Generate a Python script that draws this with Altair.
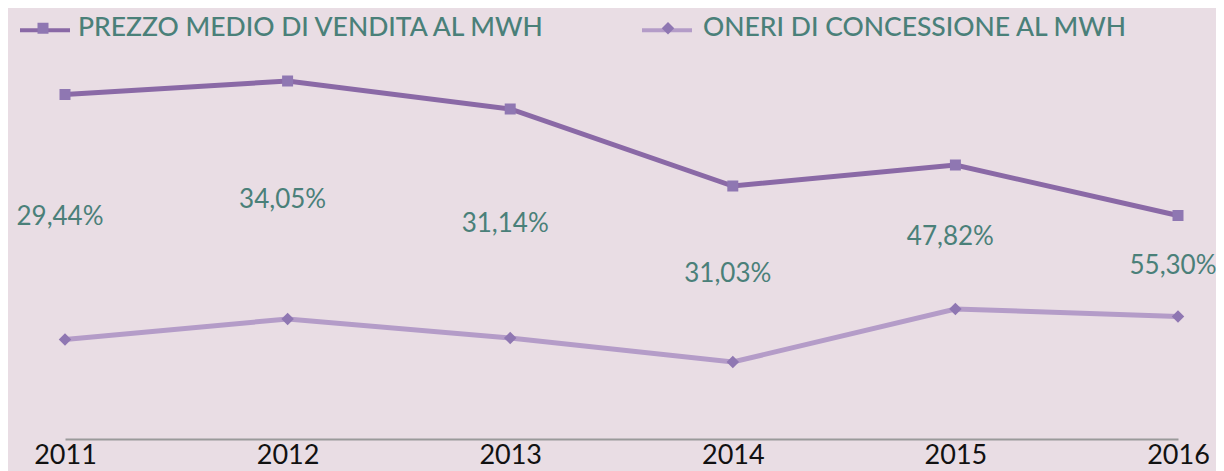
import altair as alt
import pandas as pd

years = [2011, 2012, 2013, 2014, 2015, 2016]
prezzo = [68.9, 71.6, 66.0, 50.6, 54.8, 44.7]
oneri = [19.9, 24.0, 20.2, 15.4, 26.0, 24.5]
quota = ["29,44%", "34,05%", "31,14%", "31,03%", "47,82%", "55,30%"]
series = ["PREZZO MEDIO DI VENDITA AL MWH", "ONERI DI CONCESSIONE AL MWH"]

wide = pd.DataFrame({"anno": years, "prezzo": prezzo, "oneri": oneri, "quota": quota})
long = wide.melt(id_vars=["anno"], value_vars=["prezzo", "oneri"], var_name="k", value_name="valore")
long["serie"] = long["k"].map({"prezzo": series[0], "oneri": series[1]})
long["legenda"] = long["serie"]

TEAL = "#4a8079"
BG = "#e9dde4"
line_colors = ["#8a69a6", "#b49cc8"]
marker_color = "#8f77b2"
shapes = ["M-0.22,-0.22H0.22V0.22H-0.22Z", "M0,-0.25L0.25,0L0,0.25L-0.25,0Z"]

x = alt.X(
    "anno:Q",
    scale=alt.Scale(domain=[2011, 2016], nice=False, zero=False),
    axis=alt.Axis(values=years, format="d", title=None, grid=False, ticks=False,
                  labelFlush=False, labelFont="Lato", labelFontSize=27,
                  labelColor="#111111", labelPadding=3,
                  domainColor="#9a9a9a", domainWidth=2),
)
yscale = alt.Scale(domain=[0, 76], nice=False)

LX, LY = -47, -56
common_legend = dict(orient="none", legendX=LX, legendY=LY, direction="horizontal",
                     columns=2, title=None, symbolSize=2500, labelFontSize=26.5,
                     labelFont="Lato", labelFontWeight=500, labelOffset=10,
                     padding=0, labelLimit=1000)

lines = alt.Chart(long).mark_line(strokeWidth=5).encode(
    x=x,
    y=alt.Y("valore:Q", scale=yscale, axis=None),
    color=alt.Color("serie:N", sort=series, scale=alt.Scale(range=line_colors),
                    legend=alt.Legend(symbolType="stroke", symbolStrokeWidth=4,
                                      labelExpr="''", columnPadding=552, **common_legend)),
)

points = alt.Chart(long).mark_point(filled=True, size=2500, opacity=1, color=marker_color).encode(
    x=x,
    y=alt.Y("valore:Q", scale=yscale, axis=None),
    shape=alt.Shape("legenda:N", sort=series, scale=alt.Scale(range=shapes),
                    legend=alt.Legend(symbolFillColor=marker_color, symbolStrokeWidth=0,
                                      symbolOpacity=1, labelColor=TEAL, columnPadding=96,
                                      **common_legend)),
)

labels = alt.Chart(wide).transform_calculate(
    mid="(datum.prezzo + datum.oneri) / 2"
).mark_text(font="Lato", fontSize=26, color=TEAL, baseline="middle", align="center", dx=-5).encode(
    x=x,
    y=alt.Y("mid:Q", scale=yscale, axis=None),
    text="quota:N",
)

chart = alt.layer(lines, points, labels).properties(
    width=1113, height=380,
    autosize="none",
    padding={"left": 57, "top": 51, "right": 38, "bottom": 32},
    background=BG,
).configure_view(stroke=None)

chart.save("out.html", embed_options={"renderer": "svg", "actions": False})
